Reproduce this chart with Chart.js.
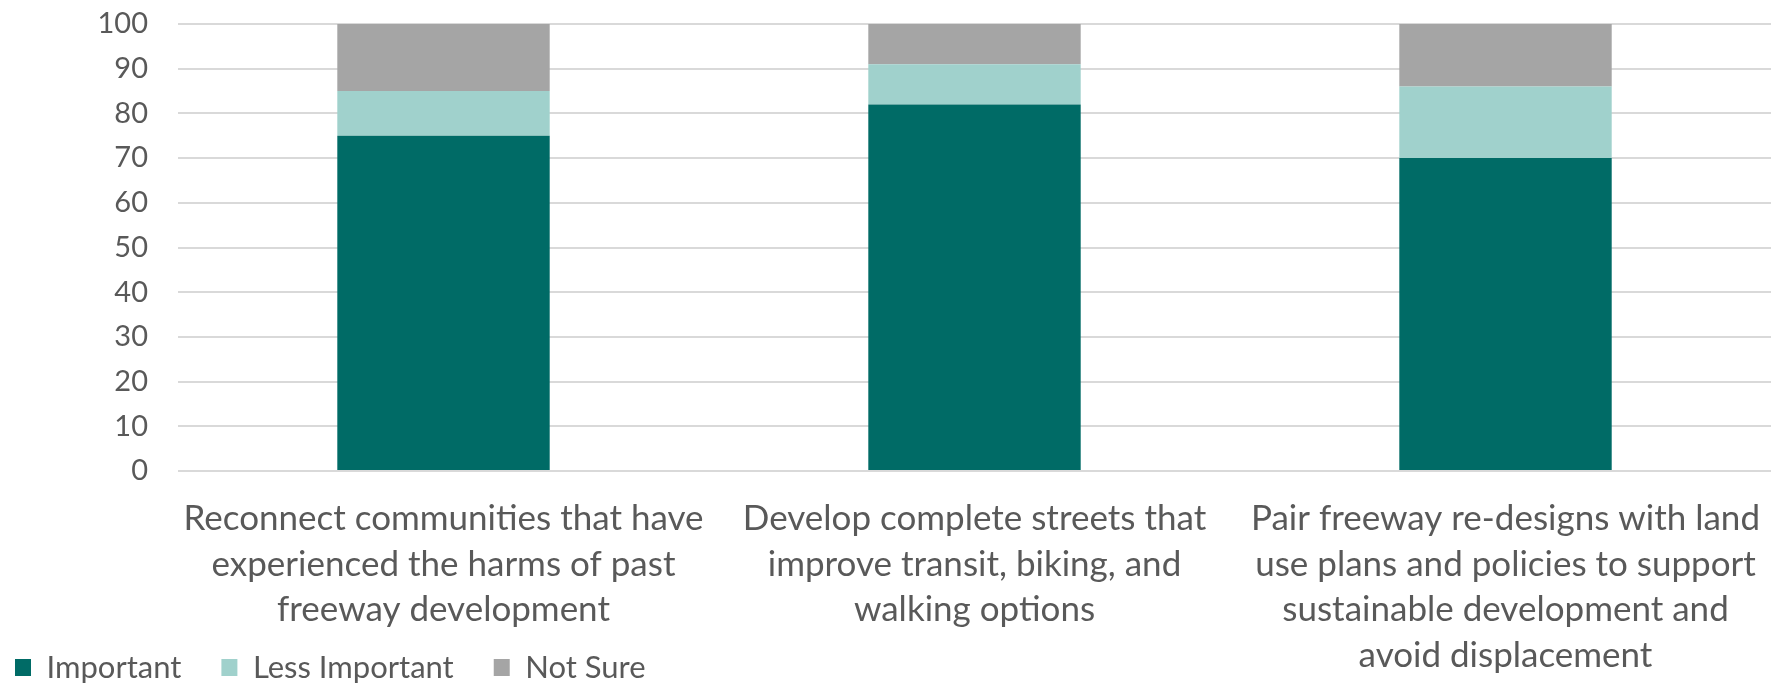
<!DOCTYPE html>
<html>
<head>
<meta charset="utf-8">
<script src="https://cdn.jsdelivr.net/npm/chart.js@4"></script>
<style>
  html, body { margin: 0; padding: 0; background: #fff; }
  #wrap { width: 1777px; height: 684px; }
</style>
</head>
<body>
<div id="wrap"><canvas id="surveyChart"></canvas></div>
<script>
const categories = [
  ['Reconnect communities that have', 'experienced the harms of past', 'freeway development'],
  ['Develop complete streets that', 'improve transit, biking, and', 'walking options'],
  ['Pair freeway re-designs with land', 'use plans and policies to support', 'sustainable development and', 'avoid displacement']
];
const important = [75, 82, 70];
const lessImportant = [10, 9, 16];
const notSure = [15, 9, 14];

const FONT = 'Lato, "Open Sans", sans-serif';
const TEXT = '#595959';

const ctx = document.getElementById('surveyChart').getContext('2d');
new Chart(ctx, {
  type: 'bar',
  data: {
    labels: categories,
    datasets: [
      { label: 'Important', data: important, backgroundColor: '#006B66' },
      { label: 'Less Important', data: lessImportant, backgroundColor: '#A0D1CC' },
      { label: 'Not Sure', data: notSure, backgroundColor: '#A5A5A5' },
    ],
  },
  options: {
    responsive: true,
    maintainAspectRatio: false,
    animation: false,
    datasets: {
      bar: { barPercentage: 0.4, categoryPercentage: 1.0 },
    },
    layout: { padding: { top: 24, right: 0, left: -25, bottom: -9 } },
    scales: {
      x: {
        stacked: true,
        grid: { display: false },
        border: { display: false },
        ticks: {
          color: TEXT,
          font: { family: FONT, size: 35, lineHeight: 1.3 },
          maxRotation: 0,
          autoSkip: false,
          padding: 17,
        },
        afterFit(scale) {
          scale.height = 141;
          // the last label runs down beside the legend, so do not clip labels to the axis box
          scale._computeLabelArea = function () {
            return { top: this.top, left: 0, bottom: this.chart.height, right: this.chart.width };
          };
        },
      },
      y: {
        stacked: true,
        min: 0,
        max: 100,
        grid: { color: '#D9D9D9', lineWidth: 2, drawTicks: false },
        border: { display: false },
        ticks: {
          stepSize: 10,
          color: TEXT,
          font: { family: FONT, size: 29 },
          padding: 30,
        },
        afterFit(scale) {
          scale.width = 203;
          scale.paddingTop = 0;
          scale.paddingBottom = 0;
        },
      },
    },
    plugins: {
      tooltip: { enabled: false },
      legend: {
        display: true,
        position: 'bottom',
        align: 'start',
        labels: {
          color: TEXT,
          font: { family: FONT, size: 31 },
          boxWidth: 16,
          boxHeight: 17,
          padding: 40,
        },
      },
    },
  },
});
</script>
</body>
</html>
